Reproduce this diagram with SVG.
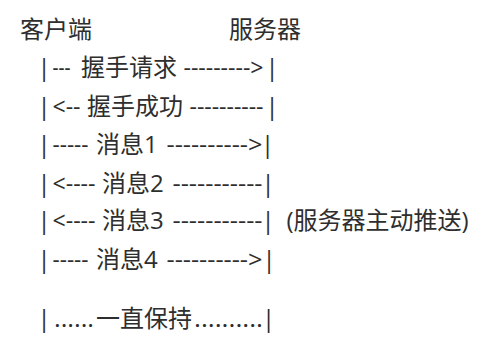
<svg xmlns="http://www.w3.org/2000/svg" width="503" height="360" viewBox="0 0 503 360">
<style>
text{font-family:"Open Sans","Noto Sans CJK SC",sans-serif;font-size:24px;fill:#2e2e2e}
.b{text-anchor:middle}
</style>
<rect width="503" height="360" fill="#fff"/>
<g id="header">
<text x="20" y="38">客户端</text>
<text x="229" y="38">服务器</text>
</g>
<g id="row1">
<text class="b" x="44.2" y="76">|</text>
<text x="52.5" y="76" textLength="18" lengthAdjust="spacingAndGlyphs">---</text>
<text x="81" y="76">握手请求</text>
<text x="183.5" y="76" textLength="80" lengthAdjust="spacingAndGlyphs">---------&gt;</text>
<text class="b" x="272" y="76">|</text>
</g>
<g id="row2">
<text class="b" x="44.2" y="115">|</text>
<text x="52.5" y="115" textLength="28" lengthAdjust="spacingAndGlyphs">&lt;--</text>
<text x="87" y="115">握手成功</text>
<text x="189.5" y="115" textLength="74" lengthAdjust="spacingAndGlyphs">----------</text>
<text class="b" x="272" y="115">|</text>
</g>
<g id="row3">
<text class="b" x="44.2" y="153">|</text>
<text x="52.5" y="153" textLength="36" lengthAdjust="spacingAndGlyphs">-----</text>
<text x="96" y="153">消息1</text>
<text x="166.5" y="153" textLength="96" lengthAdjust="spacingAndGlyphs">----------&gt;</text>
<text class="b" x="267.5" y="153">|</text>
</g>
<g id="row4">
<text class="b" x="44.2" y="192">|</text>
<text x="52.5" y="192" textLength="43" lengthAdjust="spacingAndGlyphs">&lt;----</text>
<text x="102" y="192">消息2</text>
<text x="172.5" y="192" textLength="90" lengthAdjust="spacingAndGlyphs">-----------</text>
<text class="b" x="268" y="192">|</text>
</g>
<g id="row5">
<text class="b" x="44.2" y="229">|</text>
<text x="52.5" y="229" textLength="43" lengthAdjust="spacingAndGlyphs">&lt;----</text>
<text x="102" y="229">消息3</text>
<text x="172.5" y="229" textLength="90" lengthAdjust="spacingAndGlyphs">-----------</text>
<text class="b" x="268" y="229">|</text>
<text x="286.5" y="229">(服务器主动推送)</text>
</g>
<g id="row6">
<text class="b" x="44.2" y="268">|</text>
<text x="52.5" y="268" textLength="36" lengthAdjust="spacingAndGlyphs">-----</text>
<text x="96" y="268">消息4</text>
<text x="166.5" y="268" textLength="96" lengthAdjust="spacingAndGlyphs">----------&gt;</text>
<text class="b" x="269" y="268">|</text>
</g>
<g id="row7">
<text class="b" x="44.2" y="327">|</text>
<text x="54" y="327" textLength="40" lengthAdjust="spacingAndGlyphs">......</text>
<text x="96" y="327">一直保持</text>
<text x="194" y="327" textLength="69" lengthAdjust="spacingAndGlyphs">..........</text>
<text class="b" x="268.5" y="327">|</text>
</g>
</svg>
